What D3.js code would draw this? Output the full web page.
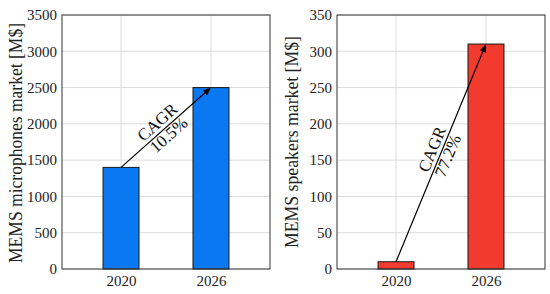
<!DOCTYPE html>
<html><head><meta charset="utf-8">
<script src="https://cdn.jsdelivr.net/npm/d3@7"></script>
<style>body{margin:0;background:#fff}svg{display:block}svg text{font-family:"Liberation Serif","DejaVu Serif",serif}</style>
</head><body>
<svg id="c" width="550" height="294"></svg>
<script>
const categories = ["2020", "2026"];
const micValues = [1400, 2500];
const spkValues = [10, 310];
const micTicks = [0, 500, 1000, 1500, 2000, 2500, 3000, 3500];
const spkTicks = [0, 50, 100, 150, 200, 250, 300, 350];
const micCagr = ["CAGR", "10.5%"];
const spkCagr = ["CAGR", "77.2%"];

const svg = d3.select("#c");
const font = "Liberation Serif, DejaVu Serif, serif";

function panel(opt) {
  const g = svg.append("g");
  const x = d3.scaleLinear().domain([0.344, 2.656]).range([opt.x0, opt.x1]);
  const y = d3.scaleLinear().domain([0, opt.max]).range([269, 15]);
  // grid
  g.append("g").selectAll("line.h").data(opt.ticks).join("line")
    .attr("x1", opt.x0).attr("x2", opt.x1).attr("y1", d => y(d)).attr("y2", d => y(d))
    .attr("stroke", "#dcdcdc").attr("stroke-width", 1);
  g.append("g").selectAll("line.v").data(categories).join("line")
    .attr("x1", (d, i) => x(i + 1)).attr("x2", (d, i) => x(i + 1))
    .attr("y1", 15).attr("y2", 269)
    .attr("stroke", "#dcdcdc").attr("stroke-width", 1);
  // bars
  g.append("g").selectAll("rect").data(opt.values).join("rect")
    .attr("x", (d, i) => x(i + 1 - 0.2)).attr("width", x(1.2) - x(0.8))
    .attr("y", d => y(d)).attr("height", d => y(0) - y(d))
    .attr("fill", opt.color).attr("stroke", "#1a1a1a").attr("stroke-width", 1);
  // box
  g.append("rect").attr("x", opt.x0).attr("y", 15).attr("width", opt.x1 - opt.x0).attr("height", 254)
    .attr("fill", "none").attr("stroke", "#333").attr("stroke-width", 1);
  // axes
  const ya = g.append("g").attr("transform", `translate(${opt.x0},0)`)
    .call(d3.axisLeft(y).tickValues(opt.ticks).tickSize(0).tickPadding(5).tickFormat(d3.format("d")));
  ya.attr("font-family", font).attr("font-size", 15);
  ya.select(".domain").remove();
  ya.selectAll("text").style("font-family", font).style("font-size", "15px").attr("fill", "#222");
  const xa = g.append("g").attr("transform", `translate(0,269)`)
    .call(d3.axisBottom(x).tickValues([1, 2]).tickSize(0).tickPadding(6).tickFormat(d => categories[d - 1]));
  xa.attr("font-family", font).attr("font-size", 15);
  xa.select(".domain").remove();
  xa.selectAll("text").style("font-family", font).style("font-size", "15px").attr("fill", "#222");
  // y label
  g.append("text").attr("transform", `translate(${opt.labelX},${opt.labelY}) rotate(-90)`)
    .attr("text-anchor", "middle").style("font-size", "18px").attr("fill", "#222")
    .attr("textLength", opt.labelLen).attr("lengthAdjust", "spacingAndGlyphs")
    .text(opt.label);
  // arrow
  const x1 = x(1), y1 = y(opt.values[0]), x2 = x(2), y2 = y(opt.values[1]);
  const ang = Math.atan2(y2 - y1, x2 - x1);
  g.append("line").attr("x1", x1).attr("y1", y1)
    .attr("x2", x2 - 6 * Math.cos(ang)).attr("y2", y2 - 6 * Math.sin(ang))
    .attr("stroke", "#000").attr("stroke-width", 1.2);
  const hl = 8, hw = 3.2;
  const bx = x2 - hl * Math.cos(ang), by = y2 - hl * Math.sin(ang);
  const px = -Math.sin(ang), py = Math.cos(ang);
  g.append("path").attr("d", `M${x2},${y2}L${bx + hw * px},${by + hw * py}L${bx - hw * px},${by - hw * py}Z`)
    .attr("fill", "#000");
  const mx = (x1 + x2) / 2 + opt.tshift * Math.cos(ang), my = (y1 + y2) / 2 + opt.tshift * Math.sin(ang);
  const deg = ang * 180 / Math.PI;
  const t = g.append("text").attr("transform", `translate(${mx},${my}) rotate(${deg})`)
    .attr("text-anchor", "middle").style("font-size", "17px").attr("fill", "#111");
  t.append("tspan").attr("x", 0).attr("y", -4).text(opt.cagr[0]);
  t.append("tspan").attr("x", 0).attr("y", 13).text(opt.cagr[1]);
}

panel({x0: 62, x1: 270, max: 3500, ticks: micTicks, values: micValues, color: "#0a78f0",
  label: "MEMS microphones market [M$]", labelX: 22, labelY: 143, labelLen: 240, cagr: micCagr, tshift: -3});
panel({x0: 337, x1: 545, max: 350, ticks: spkTicks, values: spkValues, color: "#f23a2e",
  label: "MEMS speakers market [M$]", labelX: 298, labelY: 142, labelLen: 212, cagr: spkCagr, tshift: 0});
</script>
</body></html>
